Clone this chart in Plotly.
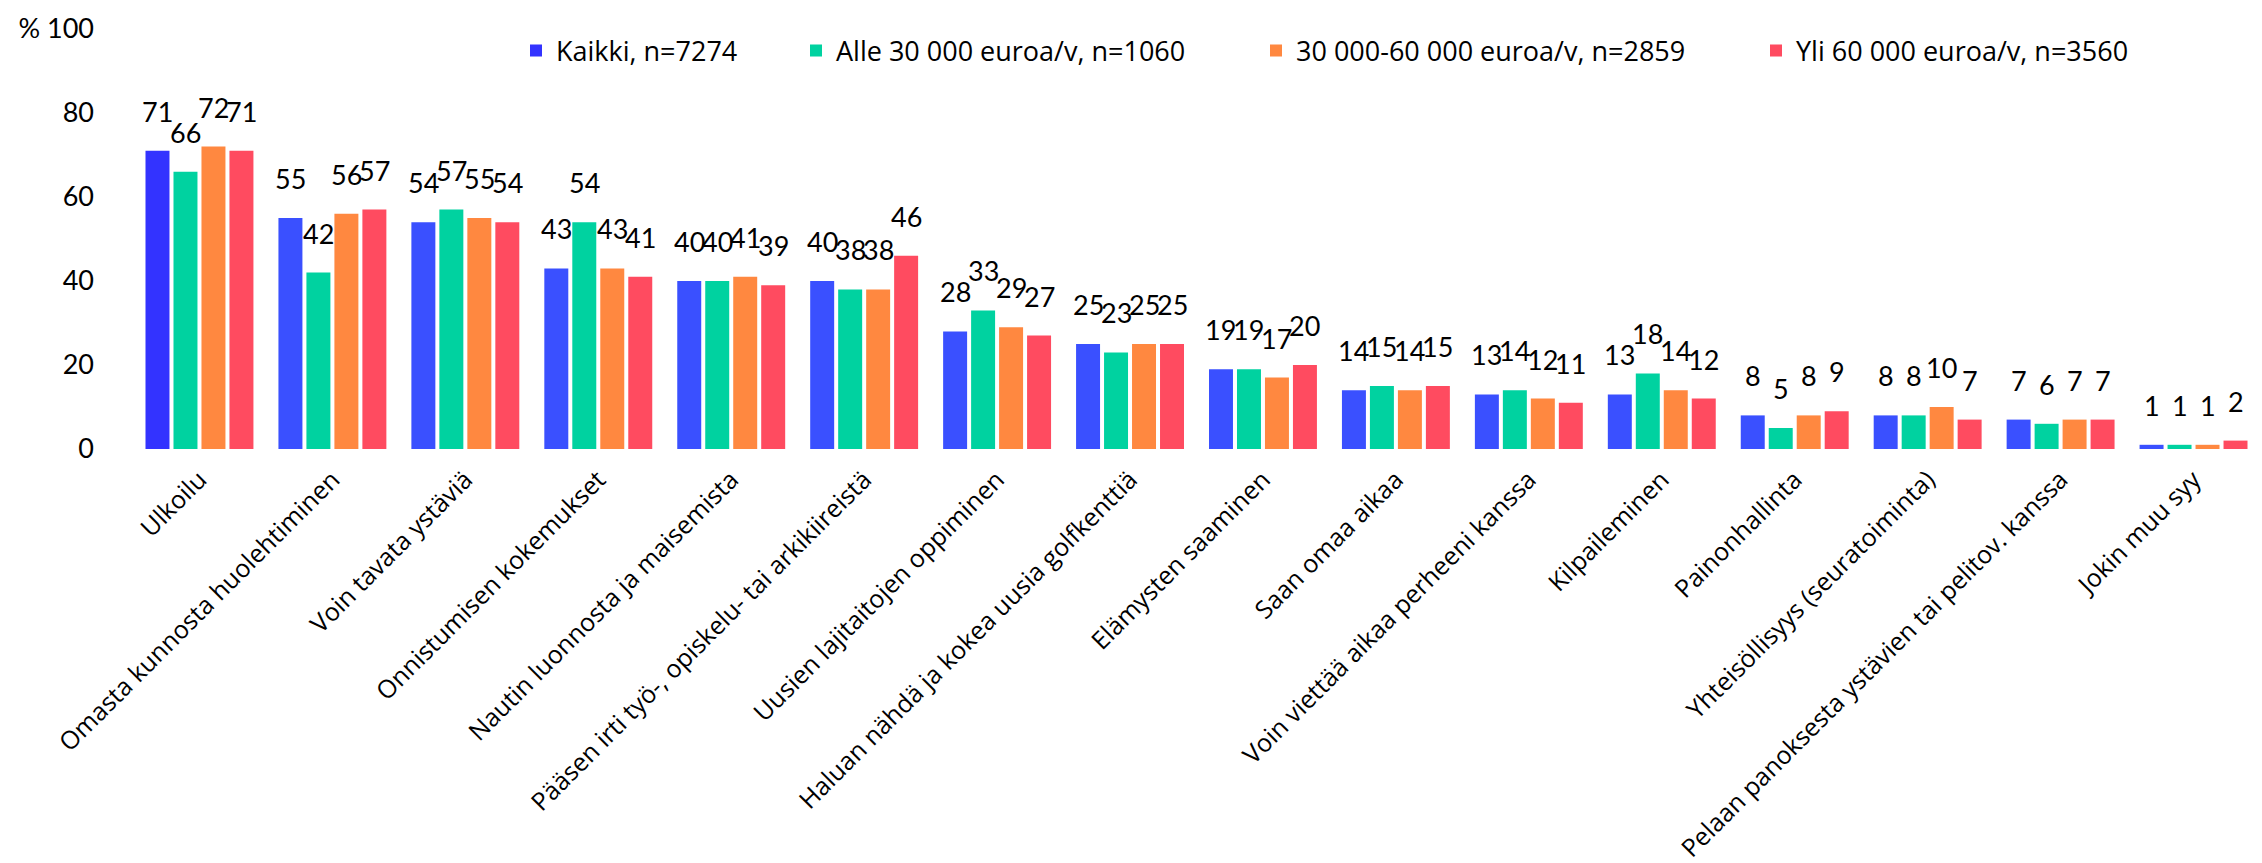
import plotly.graph_objects as go

categories = [
    "Ulkoilu",
    "Omasta kunnosta huolehtiminen",
    "Voin tavata ystäviä",
    "Onnistumisen kokemukset",
    "Nautin luonnosta ja maisemista",
    "Pääsen irti työ-, opiskelu- tai arkikiireistä",
    "Uusien lajitaitojen oppiminen",
    "Haluan nähdä ja kokea uusia golfkenttiä",
    "Elämysten saaminen",
    "Saan omaa aikaa",
    "Voin viettää aikaa perheeni kanssa",
    "Kilpaileminen",
    "Painonhallinta",
    "Yhteisöllisyys (seuratoiminta)",
    "Pelaan panoksesta ystävien tai pelitov. kanssa",
    "Jokin muu syy",
]

series_names = [
    "Kaikki, n=7274",
    "Alle 30 000 euroa/v, n=1060",
    "30 000-60 000 euroa/v, n=2859",
    "Yli 60 000 euroa/v, n=3560",
]

kaikki = [71, 55, 54, 43, 40, 40, 28, 25, 19, 14, 13, 13, 8, 8, 7, 1]
alle30 = [66, 42, 57, 54, 40, 38, 33, 23, 19, 15, 14, 18, 5, 8, 6, 1]
v30_60 = [72, 56, 55, 43, 41, 38, 29, 25, 17, 14, 12, 14, 8, 10, 7, 1]
yli60 = [71, 57, 54, 41, 39, 46, 27, 25, 20, 15, 11, 12, 9, 7, 7, 2]

series_values = [kaikki, alle30, v30_60, yli60]

y_tickvals = [0, 20, 40, 60, 80, 100]
y_ticktext = ["0", "20", "40", "60", "80", "% 100"]

colors = ["#3A50FF", "#00D2A0", "#FF8840", "#FF4B60"]
first_bar_color = "#3333FF"

W, H = 2262, 863
ML, MR, MT, MB = 125, 10, 21, 422
pitch = (W - ML - MR) / len(categories)
bargap = 0.158
bargroupgap = 0.143
slot = pitch * (1 - bargap) / len(series_names)

legend_x_px = [508, 788, 1248, 1748]
legend_y_px = 43

fig = go.Figure()
for j, (name, vals) in enumerate(zip(series_names, series_values)):
    mc = [colors[j]] * len(vals)
    if j == 0:
        mc[0] = first_bar_color
    fig.add_trace(go.Bar(
        x=categories, y=vals, name=name,
        marker=dict(color=mc, line=dict(width=0)),
        legend="legend" if j == 0 else f"legend{j+1}",
        hoverinfo="x+y+name",
    ))
    for c, v in zip(categories, vals):
        fig.add_annotation(
            x=c, y=v, xref="x", yref="y", text=str(v), showarrow=False,
            xanchor="center", yanchor="bottom",
            xshift=(j - 1.5) * slot, yshift=21,
            font=dict(family="Lato", size=27, color="#000000"),
        )

legend_font = dict(family="Open Sans", size=27, color="#000000")
legend_kw = {}
for j in range(4):
    key = "legend" if j == 0 else f"legend{j+1}"
    legend_kw[key] = dict(
        xref="container", yref="container",
        x=legend_x_px[j] / W, y=1 - legend_y_px / H,
        xanchor="left", yanchor="middle",
        orientation="h", font=legend_font,
        bgcolor="rgba(0,0,0,0)", borderwidth=0,
    )

fig.update_layout(
    width=W, height=H, autosize=False,
    margin=dict(l=ML, r=MR, t=MT, b=MB, pad=0, autoexpand=False),
    paper_bgcolor="white", plot_bgcolor="white",
    barmode="group", bargap=bargap, bargroupgap=bargroupgap,
    showlegend=True,
    **legend_kw,
)
fig.update_xaxes(
    type="category", showgrid=False, showline=False, zeroline=False,
    automargin=False,
    ticks="", tickangle=-45, ticklabelstandoff=10,
    tickfont=dict(family="Open Sans", size=25, color="#000000"),
)
fig.update_yaxes(
    range=[0, 100], showgrid=False, showline=False, zeroline=False,
    automargin=False,
    tickmode="array", tickvals=y_tickvals, ticktext=y_ticktext,
    ticks="", ticklabelstandoff=38,
    tickfont=dict(family="Lato", size=27, color="#000000"),
)

fig.write_html("out.html")
